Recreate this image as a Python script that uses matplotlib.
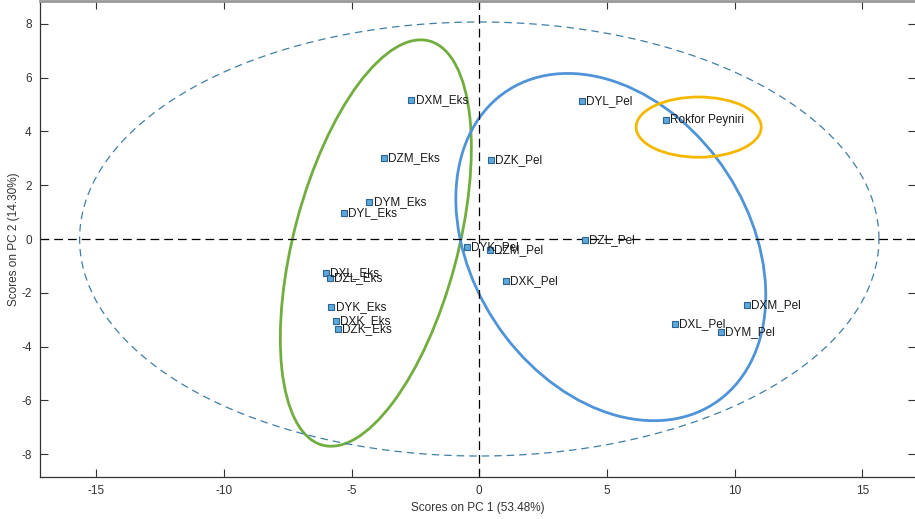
import numpy as np
import matplotlib.pyplot as plt
from matplotlib.patches import Ellipse

plt.rcParams['font.family'] = ['Liberation Sans', 'DejaVu Sans']
plt.rcParams['axes.unicode_minus'] = False

# sample scores on PC1 / PC2
names = ['DXM_Eks', 'DYL_Pel', 'Rokfor Peyniri', 'DZM_Eks', 'DZK_Pel',
         'DYM_Eks', 'DYL_Eks', 'DYK_Pel', 'DZM_Pel', 'DZL_Pel',
         'DXL_Eks', 'DZL_Eks', 'DXK_Pel', 'DYK_Eks', 'DXK_Eks',
         'DZK_Eks', 'DXM_Pel', 'DXL_Pel', 'DYM_Pel']
pc1 = [-2.66, 4.02, 7.30, -3.72, 0.45,
       -4.30, -5.29, -0.48, 0.43, 4.15,
       -6.00, -5.86, 1.04, -5.79, -5.61,
       -5.52, 10.47, 7.67, 9.46]
pc2 = [5.17, 5.13, 4.42, 3.01, 2.94,
       1.38, 0.97, -0.29, -0.41, -0.04,
       -1.26, -1.46, -1.56, -2.52, -3.04,
       -3.35, -2.45, -3.17, -3.45]

# 95% confidence limit ellipse (semi axes)
conf_a = 15.65
conf_b = 8.07

# group ellipses: center x, center y, width, height, angle, colour
groups = [
    (-4.05, -0.15, 15.6, 6.4, 74.2, '#72ad3f'),
    (5.15, -0.3, 14.2, 10.6, -51.3, '#4f93d8'),
    (8.59, 4.16, 4.9, 2.24, 0, '#f4b800'),
]

fig = plt.figure(figsize=(9.15, 5.19), dpi=100)
ax = fig.add_axes([40 / 915, 42 / 519, 876 / 915, 476 / 519])

t = np.linspace(0, 2 * np.pi, 400)
ax.plot(conf_a * np.cos(t), conf_b * np.sin(t), color='#3f7fa6', lw=0.9,
        ls=(0, (6, 4)))
ax.axhline(0, color='black', lw=0.9, ls=(0, (7, 4)))
ax.axvline(0, color='black', lw=0.9, ls=(0, (7, 4)))

for cx, cy, w, h, ang, col in groups:
    ax.add_patch(Ellipse((cx, cy), w, h, angle=ang, fill=False,
                         edgecolor=col, lw=2.0))

ax.plot(pc1, pc2, 's', ms=4.5, mfc='#5ea8dc', mec='#2d6594', mew=0.8)
for n, x, y in zip(names, pc1, pc2):
    ax.annotate(n, (x, y), xytext=(3, 0), textcoords='offset points',
                va='center', ha='left', fontsize=8.5, color='#1a1a1a')

ax.set_xlim(-17.2, 17.1)
ax.set_ylim(-8.85, 8.85)
ax.set_xticks([-15, -10, -5, 0, 5, 10, 15])
ax.set_yticks([-8, -6, -4, -2, 0, 2, 4, 6, 8])
ax.tick_params(direction='in', length=6, width=0.8, top=True, right=True,
               labelsize=8.5, colors='#333333', pad=6)
for s in ax.spines.values():
    s.set_color('#333333')
    s.set_linewidth(0.9)
ax.spines['top'].set_color('#999999')
ax.spines['top'].set_linewidth(2)

ax.set_xlabel('Scores on PC 1 (53.48%)', fontsize=8.5, color='#333333',
              labelpad=3)
ax.set_ylabel('Scores on PC 2 (14.30%)', fontsize=8.5, color='#333333',
              labelpad=1)

fig.savefig('out.png', dpi=100)
